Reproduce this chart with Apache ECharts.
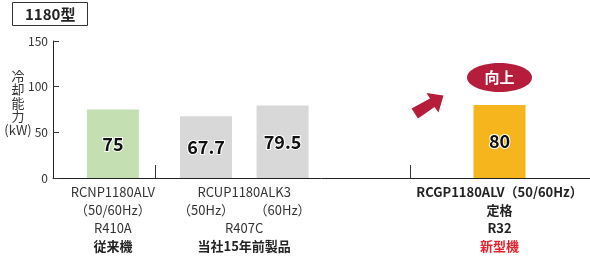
<!DOCTYPE html>
<html>
<head>
<meta charset="utf-8">
<script src="https://cdn.jsdelivr.net/npm/echarts@6/dist/echarts.min.js"></script>
<style>
  html, body { margin: 0; padding: 0; background: #fff; }
  #chart { width: 590px; height: 258px; }
</style>
</head>
<body>
<div id="chart"></div>
<script>
// data
const models = ['RCNP1180ALV', 'RCUP1180ALK3', 'RCGP1180ALV'];
const freqs = ['（50/60Hz）', '（50Hz）', '（60Hz）', '（50/60Hz）'];
const refrigerants = ['R410A', 'R407C', 'R32'];
const tags = ['従来機', '当社15年前製品', '新型機'];
const capacity = [75, 67.7, 79.5, 80];
const yTicks = [0, 50, 100, 150];

// layout: slot positions on a 0..20 axis
const barSlot = [2.23, 5.70, 8.55, 16.63];
const groupSlot = [2.23, 7.12, 16.63];
const dividerSlot = [3.8, 13.3];
const barColors = ['#c4e0b2', '#d8d8d8', '#d8d8d8', '#f6b51c'];
const FONT = '"Noto Sans CJK JP", "Noto Sans", sans-serif';

const labelText = {};
labelText[groupSlot[0]] = '{n|' + models[0] + '}\n{n|' + freqs[0] + '}\n{n|' + refrigerants[0] + '}\n{b|' + tags[0] + '}';
labelText[barSlot[1]] = '{n| }\n{n|' + freqs[1] + '}';
labelText[barSlot[2]] = '{n| }\n{n|' + freqs[2] + '}';
labelText[groupSlot[1]] = '{n|' + models[1] + '}\n{n| }\n{n|' + refrigerants[1] + '}\n{b|' + tags[1] + '}';
labelText[groupSlot[2]] = '{b|' + models[2] + freqs[3] + '}\n{b|定格}\n{b|' + refrigerants[2] + '}\n{r|' + tags[2] + '}';

const chart = echarts.init(document.getElementById('chart'));
chart.setOption({
  animation: false,
  textStyle: { fontFamily: FONT },
  title: {
    text: '1180型',
    left: 12, top: 2,
    padding: [2, 12, 2, 13],
    borderColor: '#333', borderWidth: 1,
    textStyle: { fontSize: 15, fontWeight: 'bold', color: '#222', fontFamily: FONT, lineHeight: 20 }
  },
  grid: { left: 53, right: 0, top: 41, bottom: 80, containLabel: false, outerBoundsMode: 'none' },
  xAxis: {
    type: 'value', min: 0, max: 20,
    splitLine: { show: false },
    axisLine: { show: true, lineStyle: { color: '#222', width: 1 } },
    axisTick: { show: true, inside: true, length: 13, customValues: dividerSlot, lineStyle: { color: '#333' } },
    axisLabel: {
      customValues: [groupSlot[0], barSlot[1], barSlot[2], groupSlot[1], groupSlot[2]],
      margin: 5,
      formatter: v => labelText[v] || '',
      rich: {
        n: { fontSize: 13, lineHeight: 18, color: '#333', fontFamily: FONT },
        b: { fontSize: 13, lineHeight: 18, color: '#222', fontWeight: 'bold', fontFamily: FONT },
        r: { fontSize: 13, lineHeight: 18, color: '#e3232f', fontWeight: 'bold', fontFamily: FONT }
      }
    }
  },
  yAxis: {
    type: 'value', min: yTicks[0], max: yTicks[yTicks.length - 1], interval: 50,
    name: '冷\n却\n能\n力\n(kW)\n ',
    nameLocation: 'middle', nameRotate: 0, nameGap: 35, nameMoveOverlap: false,
    nameTextStyle: {
      fontSize: 13, lineHeight: 13.5, color: '#333', fontFamily: FONT,
      align: 'center', verticalAlign: 'middle'
    },
    splitLine: { show: false },
    axisLine: { show: true, lineStyle: { color: '#222', width: 1 } },
    axisTick: { show: true, inside: true, length: 6, lineStyle: { color: '#333' } },
    axisLabel: { fontSize: 12, color: '#333', margin: 5, fontFamily: FONT }
  },
  series: [{
    type: 'bar',
    barWidth: 52,
    data: capacity.map((v, i) => ({ value: [barSlot[i], v], itemStyle: { color: barColors[i] } })),
    label: {
      show: true, position: 'inside',
      formatter: p => p.value[1],
      fontSize: 18, fontWeight: 'bold', color: '#111', fontFamily: FONT,
      textBorderColor: '#fff', textBorderWidth: 2
    }
  }],
  graphic: [
    {
      type: 'polygon',
      shape: { points: [[443.5, 95.5], [426.5, 93], [430, 98.5], [411.5, 108.5], [418, 118.5], [434.5, 107], [438.5, 112.5]] },
      style: { fill: '#b51d3b' }
    },
    {
      type: 'ellipse',
      shape: { cx: 499.5, cy: 77.5, rx: 32.5, ry: 14.5 },
      style: { fill: '#b51d3b' }
    },
    {
      type: 'text',
      x: 499.5, y: 77.5,
      style: { text: '向上', fill: '#fff', font: 'bold 15px ' + FONT, align: 'center', verticalAlign: 'middle' }
    }
  ]
});
</script>
</body>
</html>
